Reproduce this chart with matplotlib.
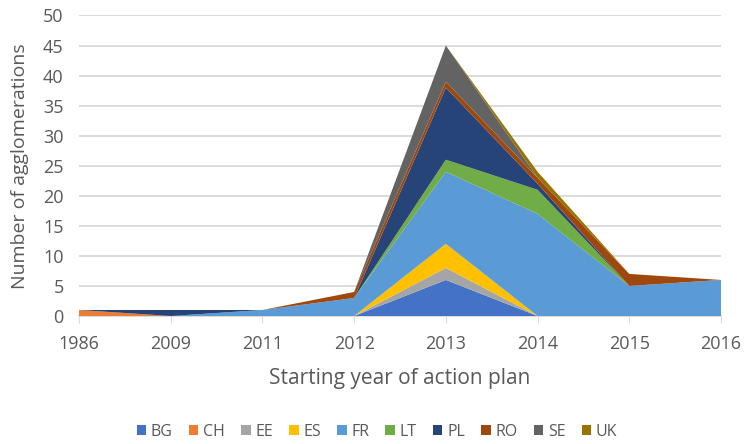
import matplotlib.pyplot as plt
import numpy as np

years = ['1986', '2009', '2011', '2012', '2013', '2014', '2015', '2016']
countries = ['BG', 'CH', 'EE', 'ES', 'FR', 'LT', 'PL', 'RO', 'SE', 'UK']

bg = [0, 0, 0, 0, 6, 0, 0, 0]
ch = [1, 0, 0, 0, 0, 0, 0, 0]
ee = [0, 0, 0, 0, 2, 0, 0, 0]
es = [0, 0, 0, 0, 4, 0, 0, 0]
fr = [0, 0, 1, 3, 12, 17, 5, 6]
lt = [0, 0, 0, 0, 2, 4, 0, 0]
pl = [0, 1, 0, 0, 12, 1, 0, 0]
ro = [0, 0, 0, 1, 1, 1, 2, 0]
se = [0, 0, 0, 0, 6, 0, 0, 0]
uk = [0, 0, 0, 0, 0, 1, 0, 0]

colors = ['#4472C4', '#ED7D31', '#A5A5A5', '#FFC000', '#5B9BD5',
          '#70AD47', '#264478', '#9E480E', '#636363', '#997300']

plt.rcParams['font.family'] = ['Open Sans', 'DejaVu Sans']
text_col = '#595959'

fig = plt.figure(figsize=(7.45, 4.44), dpi=100)
ax = fig.add_axes([79 / 745, 1 - 316 / 444, (721 - 79) / 745, (316 - 15.5) / 444])

x = np.arange(len(years))
ax.stackplot(x, bg, ch, ee, es, fr, lt, pl, ro, se, uk,
             colors=colors, labels=countries, zorder=3)

ax.set_xlim(0, len(years) - 1)
ax.set_ylim(0, 50)
ax.set_yticks(range(0, 51, 5))
ax.set_xticks(x)
ax.set_xticklabels(years)
ax.grid(axis='y', color='#d9d9d9', linewidth=1.3, zorder=0)
for s in ['top', 'right', 'left']:
    ax.spines[s].set_visible(False)
ax.spines['bottom'].set_color('#d9d9d9')
ax.spines['bottom'].set_linewidth(1.3)
ax.tick_params(axis='y', length=0, labelsize=13, labelcolor=text_col, pad=11)
ax.tick_params(axis='x', length=5, color='#d9d9d9', labelsize=13,
               labelcolor=text_col, pad=9)

ax.set_xlabel('Starting year of action plan', fontsize=15, color=text_col)
ax.set_ylabel('Number of agglomerations', fontsize=14, color=text_col)
ax.xaxis.set_label_coords(0.5, (316 - 378) / 300.5)
ax.yaxis.set_label_coords((20 - 79) / 642, 0.5)
ax.xaxis.label.set_va('center')
ax.yaxis.label.set_va('center')

leg = fig.legend(loc='center', bbox_to_anchor=(377 / 745, 1 - 432 / 444), ncol=10,
                 frameon=False, fontsize=11.5, handlelength=0.6, handleheight=0.6,
                 handletextpad=0.3, columnspacing=1.0)
for t in leg.get_texts():
    t.set_color(text_col)

fig.savefig('out.png', dpi=100)
